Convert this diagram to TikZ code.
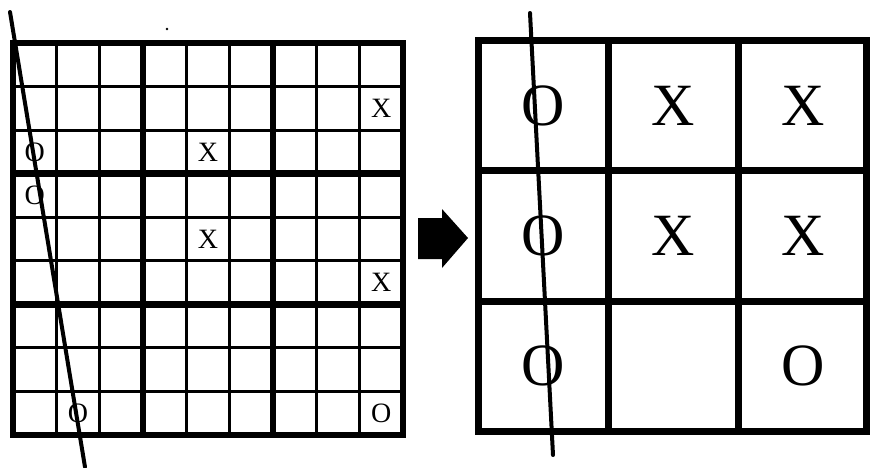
\documentclass[tikz,border=0pt]{standalone}
\usepackage{fontspec}
\setmainfont{Liberation Serif}
\begin{document}
\begin{tikzpicture}[x=1pt,y=-1pt,
  thingrid/.style={line width=3pt},
  thickgrid/.style={line width=6.5pt, line join=miter},
  bigrid/.style={line width=7pt, line join=miter},
  smallmark/.style={font=\fontsize{28}{28}\selectfont, inner sep=0pt, anchor=center},
  bigmark/.style={font=\fontsize{60}{60}\selectfont, inner sep=0pt, anchor=center},
  slash/.style={line width=4pt, line cap=round}]
\useasboundingbox (0,0) rectangle (870,468);
% ---- left 9x9 grid ----
\foreach \i in {1,2,4,5,7,8} {
  \draw[thingrid] ({13+\i*390/9},43) -- ({13+\i*390/9},435);
  \draw[thingrid] (13,{43+\i*392/9}) -- (403,{43+\i*392/9});
}
\foreach \i in {3,6} {
  \draw[thickgrid] ({13+\i*390/9},43) -- ({13+\i*390/9},435);
  \draw[thickgrid] (13,{43+\i*392/9}) -- (403,{43+\i*392/9});
}
\draw[thickgrid] (13,43) rectangle (403,435);
% marks (row, col)
\foreach \r/\c/\t/\n in {2/9/X/a, 3/1/O/b, 3/5/X/c, 4/1/O/d, 5/5/X/e, 6/9/X/f, 9/2/O/g, 9/9/O/h} {
  \node[smallmark] (s\n) at ({13+(\c-0.5)*390/9},{43+(\r-0.5)*392/9}) {\t};
}
% speck
\fill (167,29) circle (1.3);
% left diagonal
\coordinate (lt) at (10,12);
\coordinate (lb) at (85,467);
\draw[slash] (lt) -- (lb);
% ---- arrow ----
\fill (418,218) -- (442,218) -- (442,209) -- (468,238) -- (442,268) -- (442,259) -- (418,259) -- cycle;
% ---- right 3x3 grid ----
\draw[bigrid] (608,41) -- (608,431);
\draw[bigrid] (738,41) -- (738,431);
\draw[bigrid] (478,170) -- (866,170);
\draw[bigrid] (478,301) -- (866,301);
\draw[bigrid] (478,41) rectangle (866,431);
\foreach \r/\c/\t/\n in {1/1/O/a, 1/2/X/b, 1/3/X/c, 2/1/O/d, 2/2/X/e, 2/3/X/f, 3/1/O/g, 3/3/O/h} {
  \node[bigmark] (b\n) at ({478+(\c-0.5)*130},{41+(\r-0.5)*130}) {\t};
}
% right diagonal
\coordinate (rt) at (530,13);
\coordinate (rb) at (553,455);
\draw[slash] (rt) -- (rb);
\end{tikzpicture}
\end{document}
